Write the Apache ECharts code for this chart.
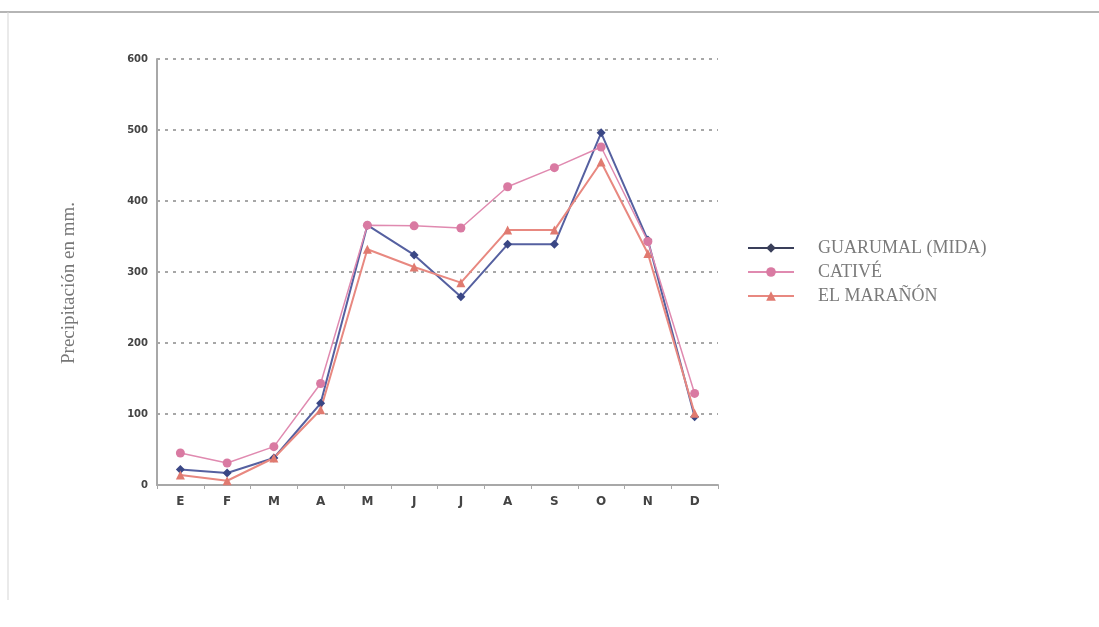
<!DOCTYPE html>
<html><head><meta charset="utf-8">
<script src="https://cdn.jsdelivr.net/npm/echarts@6/dist/echarts.min.js"></script>
<style>html,body{margin:0;padding:0;background:#fff}#c{width:1099px;height:627px}</style>
</head><body><div id="c"></div>
<script>
const months = ['E','F','M','A','M','J','J','A','S','O','N','D'];
const yTicks = [0,100,200,300,400,500,600];
const guarumal = [22,17,38,115,366,324,265,339,339,496,345,96];
const cative = [45,31,54,143,366,365,362,420,447,476,343,129];
const maranon = [14,6,38,106,332,307,285,359,359,455,326,101];
const seriesNames = ['GUARUMAL (MIDA)','CATIVÉ','EL MARAÑÓN'];

const chart = echarts.init(document.getElementById('c'));
chart.setOption({
  animation:false,
  backgroundColor:'#fff',
  graphic:[
    {type:'line',shape:{x1:0,y1:12,x2:1099,y2:12},style:{stroke:'#b5b5b5',lineWidth:2}},
    {type:'line',shape:{x1:8,y1:12,x2:8,y2:600},style:{stroke:'#d5d5d5',lineWidth:1}}
  ],
  grid:{left:157,right:381,top:59,bottom:142},
  legend:{
    orient:'vertical',left:742,top:234,itemWidth:46,itemHeight:12,itemGap:6,
    data:[
      {name:seriesNames[0],itemStyle:{color:'#3a3f5a'},lineStyle:{color:'#3a3f5a'}},
      {name:seriesNames[1]},
      {name:seriesNames[2]}
    ],
    textStyle:{fontFamily:'Liberation Serif',fontSize:18,color:'#7a7a7a',padding:[0,0,0,19]}
  },
  xAxis:{
    type:'category',data:months,boundaryGap:true,
    axisLine:{lineStyle:{color:'#a8a8a8',width:2}},
    axisTick:{show:true,length:4,lineStyle:{color:'#a8a8a8'}},
    axisLabel:{color:'#444',fontWeight:'bold',fontSize:12,margin:11,fontFamily:'DejaVu Sans'}
  },
  yAxis:{
    type:'value',min:0,max:600,interval:100,
    name:'Precipitación en mm.',nameLocation:'middle',nameGap:78,
    nameTextStyle:{fontFamily:'Liberation Serif',fontSize:19,color:'#777',padding:[0,22,0,0]},
    axisLine:{show:true,lineStyle:{color:'#a8a8a8',width:2}},
    axisTick:{show:false},
    axisLabel:{color:'#444',fontWeight:'bold',fontSize:10,margin:9,fontFamily:'DejaVu Sans',
      formatter:function(v){return yTicks.indexOf(v)>=0?String(v):'';}},
    splitLine:{show:true,lineStyle:{color:'#8a8a8a',type:[3,5],width:1.5}}
  },
  series:[
    {name:seriesNames[0],type:'line',data:guarumal,symbol:'diamond',symbolSize:9,
     itemStyle:{color:'#3a4785'},lineStyle:{color:'#5560a0',width:2}},
    {name:seriesNames[1],type:'line',data:cative,symbol:'circle',symbolSize:9,
     itemStyle:{color:'#d97aa2'},lineStyle:{color:'#e08ab0',width:1.5}},
    {name:seriesNames[2],type:'line',data:maranon,symbol:'triangle',symbolSize:9,
     itemStyle:{color:'#e07a70'},lineStyle:{color:'#e88880',width:2}}
  ]
});
</script></body></html>
